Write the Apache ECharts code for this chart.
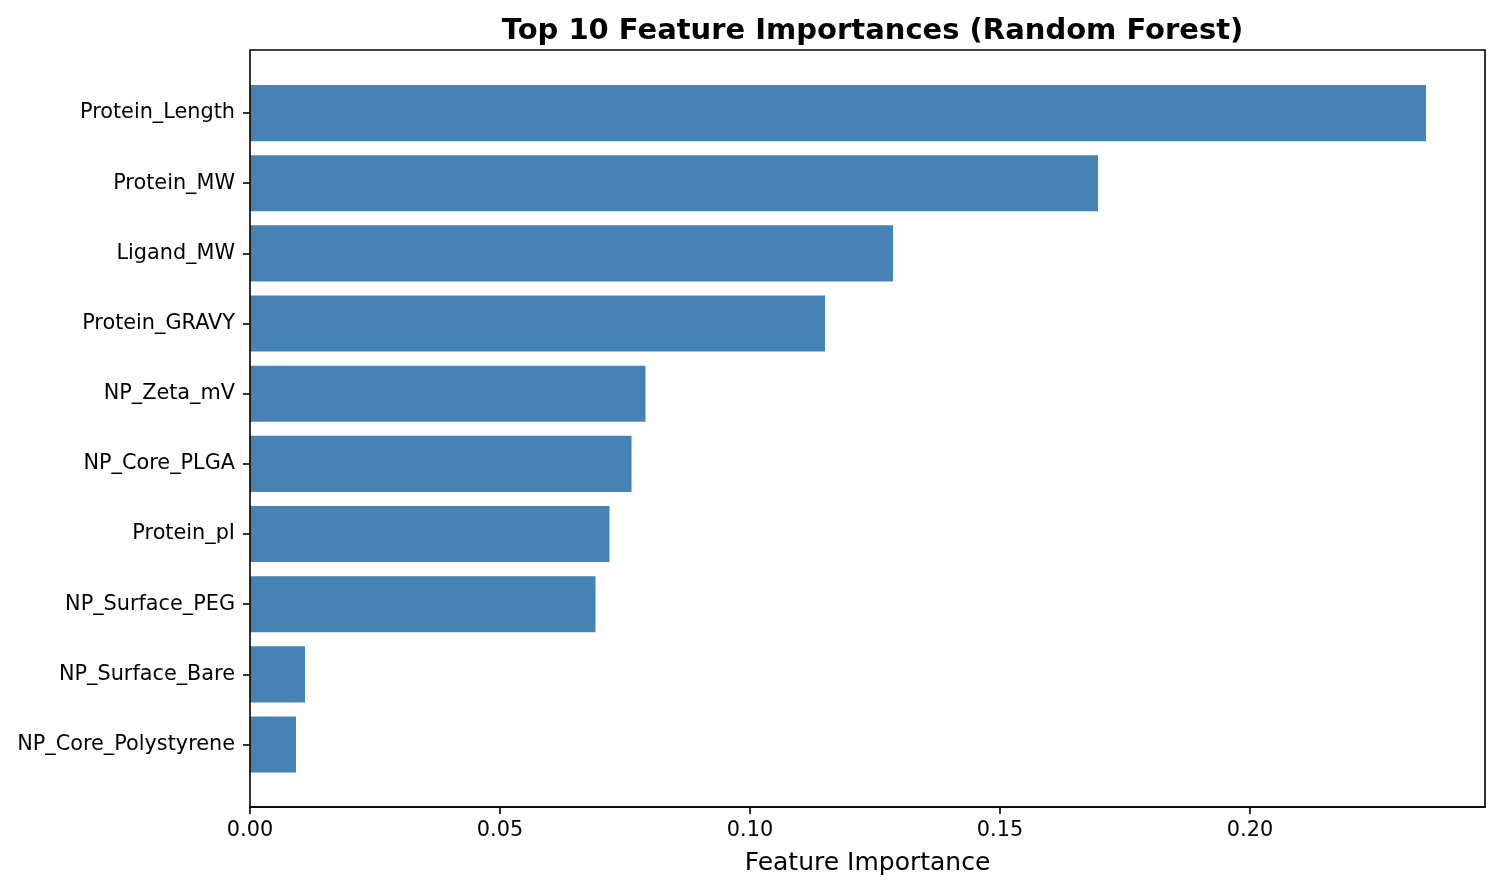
<!DOCTYPE html>
<html>
<head>
<meta charset="utf-8">
<script src="https://cdn.jsdelivr.net/npm/echarts@6/dist/echarts.min.js"></script>
<style>
html,body{margin:0;padding:0;background:#fff;}
#chart{width:1500px;height:891px;}
</style>
</head>
<body>
<div id="chart"></div>
<script>
const features = ["Protein_Length","Protein_MW","Ligand_MW","Protein_GRAVY","NP_Zeta_mV","NP_Core_PLGA","Protein_pI","NP_Surface_PEG","NP_Surface_Bare","NP_Core_Polystyrene"];
const importances = [0.2352,0.1696,0.1286,0.1150,0.0791,0.0763,0.0719,0.0691,0.0110,0.0092];
const xTicks = [0, 0.05, 0.10, 0.15, 0.20];
const xMax = 0.247;

const chart = echarts.init(document.getElementById('chart'), null, {renderer:'canvas'});
const FONT = 'DejaVu Sans';
chart.setOption({
  animation:false,
  backgroundColor:'#fff',
  title:{
    text:'Top 10 Feature Importances (Random Forest)',
    left:867.5, top:12, textAlign:'center',
    textStyle:{fontFamily:FONT,fontWeight:'bold',fontSize:29,color:'#000'}
  },
  grid:[
    {left:250,right:15,top:78,bottom:111.4,containLabel:false,show:false},
    {left:250,right:15,top:50,bottom:84,containLabel:false,show:true,borderColor:'#000',borderWidth:1.6,backgroundColor:'transparent',z:10}
  ],
  xAxis:[
    {type:'value',gridIndex:0,min:0,max:xMax,show:false},
    {type:'value',gridIndex:1,min:0,max:xMax,position:'bottom',
     name:'Feature Importance',nameLocation:'middle',nameGap:44,
     nameTextStyle:{fontFamily:FONT,fontSize:25,color:'#000'},
     axisLine:{show:true,lineStyle:{color:'#000',width:1.6}},
     axisTick:{show:true,length:7,lineStyle:{color:'#000',width:1.6},customValues:xTicks},
     axisLabel:{show:true,margin:13,fontFamily:FONT,fontSize:20.8,color:'#000',customValues:xTicks,
       formatter:v=>Number(v).toFixed(2)},
     splitLine:{show:false}}
  ],
  yAxis:[
    {type:'category',gridIndex:0,data:features,inverse:true,
     axisLine:{show:false},
     axisTick:{show:true,alignWithLabel:true,length:7,lineStyle:{color:'#000',width:1.6}},
     axisLabel:{margin:15,padding:[4,0,0,0],fontFamily:FONT,fontSize:20.8,color:'#000'},
     splitLine:{show:false}},
    {type:'value',gridIndex:1,show:false}
  ],
  series:[{
    type:'bar',xAxisIndex:0,yAxisIndex:0,data:importances,barWidth:'80%',
    itemStyle:{color:'#4682B4'}
  }]
});
</script>
</body>
</html>
